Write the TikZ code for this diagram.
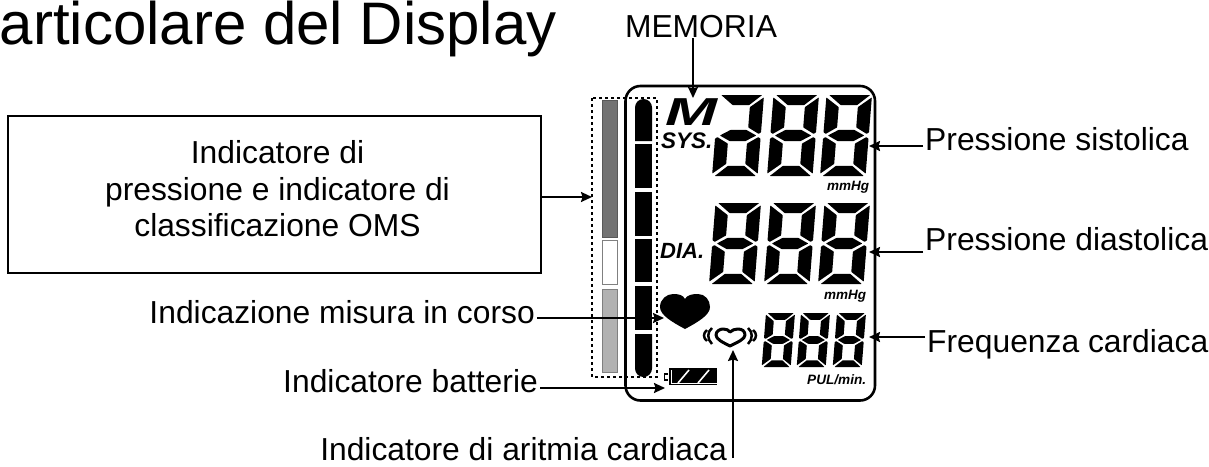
\documentclass[tikz,border=0pt]{standalone}
\usepackage{fontspec}
\setmainfont{Liberation Sans}
\usetikzlibrary{arrows.meta}

\tikzset{
  lbl/.style={font=\fontsize{31.8}{36}\selectfont, inner sep=2pt, text height=24pt, text depth=7pt},
  lcdtext/.style={font=\fontsize{#1}{#1}\selectfont\bfseries\itshape, inner sep=0pt, anchor=base west},
  pointer/.style={line width=2pt, -{Stealth[length=11pt,width=10pt,inset=1.5pt]}},
  barseg/.style={fill=black},
  graybar/.style={draw=#1, line width=1pt},
  bigdigit/.style={xslant=.08, xscale=.455, yscale=.405},
  smalldigit/.style={xslant=.08, xscale=.29, yscale=.27},
  pics/segbars/.style={code={
    \fill[rounded corners=.5pt] (6,0) -- (96,0) -- (69,25) -- (33,25) -- cycle;
    \fill[rounded corners=.5pt] (100,6) -- (100,92) -- (95,96) -- (71,80) -- (71,30) -- cycle;
    \fill[rounded corners=.5pt] (10,100) -- (33,86) -- (67,86) -- (90,100) -- (67,114) -- (33,114) -- cycle;
    \fill[rounded corners=.5pt] (0,108) -- (5,104) -- (29,120) -- (29,170) -- (0,194) -- cycle;
    \fill[rounded corners=.5pt] (100,108) -- (100,194) -- (71,170) -- (71,120) -- (95,104) -- cycle;
    \fill[rounded corners=.5pt] (6,200) -- (33,175) -- (69,175) -- (96,200) -- cycle;
  }},
  pics/segul/.style={code={
    \fill[rounded corners=.5pt] (0,6) -- (29,30) -- (29,80) -- (5,96) -- (0,92) -- cycle;
  }},
}

\begin{document}
\begin{tikzpicture}[x=1pt,y=-1pt]
  \useasboundingbox (0,0) rectangle (1209,466);

  % title, cut by the left edge
  \node[font=\fontsize{60}{60}\selectfont, inner sep=0pt, anchor=base east] (title) at (557,44.5) {articolare del Display};

  % left box
  \node[draw, line width=1.2pt, minimum width=533pt, minimum height=157pt, inner sep=0pt] (oms) at (274.5,194.5) {};
  \node[align=center, inner sep=0pt, font=\fontsize{31.8}{36.5}\selectfont] (omstext) at (277.5,189)
        {Indicatore di\\pressione e indicatore di\\classificazione OMS};

  % gray scale
  \node[graybar=gray!70!black, fill=black!55, minimum width=15pt, minimum height=137pt, inner sep=0pt] (bardark) at (609.5,168.5) {};
  \node[graybar=gray, fill=white, minimum width=15pt, minimum height=44pt, inner sep=0pt] (barwhite) at (609.5,262) {};
  \node[graybar=gray, fill=black!30, minimum width=15pt, minimum height=83pt, inner sep=0pt] (barlight) at (609.5,331) {};

  % display frame and dotted box
  \draw[line width=2.6pt, rounded corners=15pt] (625.5,86) rectangle (875,400.5);
  \draw[line width=2pt, dash pattern=on 3pt off 3pt] (592,98) rectangle (657,377);

  % pressure bar
  \fill[barseg] (635,141) -- (635,107.5) arc[start angle=180, end angle=360, radius=8.5] -- (652,141) -- cycle;
  \foreach \ytop/\ybot in {144/188,192/236,239/282,286/330}
    \fill[barseg] (635,\ytop) rectangle (652,\ybot);
  \fill[barseg] (635,334) -- (635,368.5) arc[start angle=180, end angle=0, radius=8.5] -- (652,334) -- cycle;

  % digits
  \foreach \dx in {718.5,773.5,826.5}
    \pic[bigdigit] at (\dx,95) {segbars};
  \foreach \dx in {773.5,826.5}
    \pic[bigdigit] at (\dx,95) {segul};
  \foreach \dx in {715.5,770.5,824.5} {
    \pic[bigdigit] at (\dx,203) {segbars};
    \pic[bigdigit] at (\dx,203) {segul};
  }
  \foreach \dx in {766,801,837} {
    \pic[smalldigit] at (\dx,313) {segbars};
    \pic[smalldigit] at (\dx,313) {segul};
  }

  % display texts
  \node[lcdtext=39, xscale=1.6] (memm) at (665,125) {M};
  \node[lcdtext=22.5] (sys) at (661,148) {SYS.};
  \node[lcdtext=22] (dia) at (660,258) {DIA.};
  \node[lcdtext=13.5] (mmsys) at (827,190) {mmHg};
  \node[lcdtext=13.5] (mmdia) at (824,299) {mmHg};
  \node[lcdtext=13.6] (pul) at (807,384) {PUL/min.};

  % hearts
  \fill (685,329) .. controls (672,322) and (660,315) .. (660,307)
    .. controls (660,299) and (667,294) .. (673,294) .. controls (679,294) and (683,295) .. (685,299)
    .. controls (687,295) and (692,294) .. (698,294) .. controls (705,294) and (710,300) .. (710,307)
    .. controls (710,315) and (698,322) .. (685,329) -- cycle;
  \draw[line width=3pt, line join=round] (730,346) .. controls (722,342) and (716,339) .. (716,335)
    .. controls (716,331) and (720,329) .. (723,329) .. controls (726,329) and (729,330) .. (730,332)
    .. controls (732,330) and (735,329) .. (738,329) .. controls (742,329) and (745,331) .. (745,335)
    .. controls (745,339) and (738,342) .. (730,346) -- cycle;
  \foreach \sx in {-1,1} {
    \draw[line width=2.5pt, xshift=730pt, xscale=\sx] (-23,330) .. controls (-27,333) and (-27,338) .. (-23,341);
    \draw[line width=2.5pt, xshift=730pt, xscale=\sx] (-18,328) .. controls (-23,332) and (-23,339) .. (-18,344);
  }

  % battery
  \fill (669,368) rectangle (717,385);
  \draw[white, line width=1pt] (671,370) -- (671,383) -- (717,383);
  \draw[white, line width=1.6pt] (678,383) -- (689,370);
  \draw[white, line width=1.6pt] (698,383) -- (709,370);
  \draw[line width=1.5pt] (668,374) -- (664.5,374) -- (664.5,380) -- (668,380);

  % labels
  \node[lbl, anchor=base] (mem) at (701,37) {MEMORIA};
  \node[lbl, anchor=base west] (lsys) at (923,150) {Pressione sistolica};
  \node[lbl, anchor=base west] (ldia) at (923,250) {Pressione diastolica};
  \node[lbl, anchor=base west] (lfreq) at (925,352.5) {Frequenza cardiaca};
  \node[lbl, anchor=base east] (lmis) at (537,323) {Indicazione misura in corso};
  \node[lbl, anchor=base east] (lbat) at (540,392) {Indicatore batterie};
  \node[lbl, anchor=base east] (lari) at (729,460.5) {Indicatore di aritmia cardiaca};

  % arrow ends
  \coordinate (memtop) at (693,38);
  \coordinate (memtip) at (693,98);
  \coordinate (dottip) at (592,197);
  \coordinate (systip) at (869,146);
  \coordinate (diatip) at (869,252);
  \coordinate (freqtip) at (869,337);
  \coordinate (mistip) at (664,318);
  \coordinate (battip) at (665,388);
  \coordinate (aribot) at (733,458);
  \coordinate (aritip) at (733,350);

  \draw[pointer] (memtop) -- (memtip);
  \draw[pointer] (oms.east |- dottip) -- (dottip);
  \draw[pointer] (lsys.west |- systip) -- (systip);
  \draw[pointer] (ldia.west |- diatip) -- (diatip);
  \draw[pointer] (lfreq.west |- freqtip) -- (freqtip);
  \draw[pointer] (lmis.east |- mistip) -- (mistip);
  \draw[pointer] (lbat.east |- battip) -- (battip);
  \draw[pointer] (aribot) -- (aritip);
\end{tikzpicture}
\end{document}
